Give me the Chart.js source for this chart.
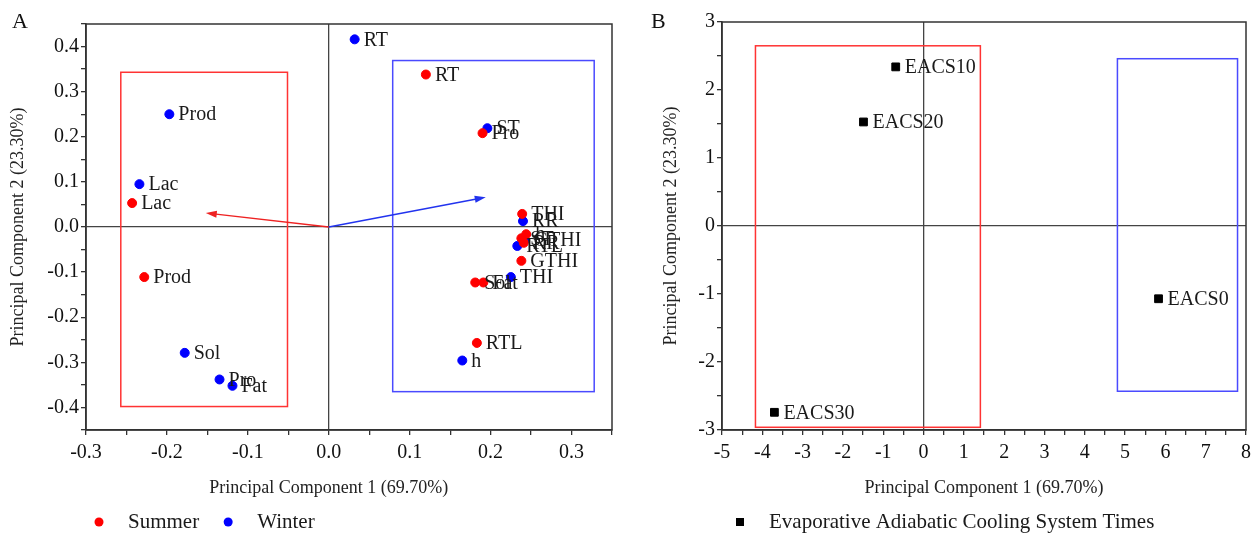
<!DOCTYPE html>
<html>
<head>
<meta charset="utf-8">
<script src="https://cdn.jsdelivr.net/npm/chart.js@4.4.1/dist/chart.umd.min.js"></script>
<style>
  body { margin: 0; background: #fff; }
  #wrapA { position: absolute; left: 0; top: 0; width: 640px; height: 533px; }
  #wrapB { position: absolute; left: 640px; top: 0; width: 618px; height: 533px; }
</style>
</head>
<body>
<div id="wrapA"><canvas id="chartA"></canvas></div>
<div id="wrapB"><canvas id="chartB"></canvas></div>
<script>
// panel A - summer
const summerLabels = ['RT', 'Pro', 'Lac', 'Prod', 'THI', 'h', 'ST', 'RR', 'GTHI', 'Sol', 'Fat', 'RTL'];
const summerX = [0.120, 0.190, -0.243, -0.228, 0.239, 0.244, 0.238, 0.241, 0.238, 0.181, 0.191, 0.183];
const summerY = [0.338, 0.208, 0.053, -0.111, 0.029, -0.016, -0.025, -0.035, -0.075, -0.123, -0.123, -0.257];
// panel A - winter
const winterLabels = ['RT', 'ST', 'Prod', 'Lac', 'RR', 'GTHI', 'RTL', 'THI', 'h', 'Sol', 'Pro', 'Fat'];
const winterX = [0.032, 0.196, -0.197, -0.234, 0.240, 0.242, 0.233, 0.225, 0.165, -0.178, -0.135, -0.119];
const winterY = [0.416, 0.219, 0.250, 0.095, 0.013, -0.029, -0.042, -0.111, -0.296, -0.279, -0.338, -0.352];
// loading arrows (x, y)
const summerArrow = [-0.152, 0.031];
const winterArrow = [0.194, 0.066];
// grouping boxes [xmin, xmax, ymin, ymax]
const boxA_red = [-0.257, -0.051, -0.398, 0.343];
const boxA_blue = [0.079, 0.328, -0.365, 0.369];

// panel B
const eacsLabels = ['EACS0', 'EACS10', 'EACS20', 'EACS30'];
const eacsX = [5.83, -0.69, -1.49, -3.70];
const eacsY = [-1.07, 2.34, 1.53, -2.74];
const boxB_red = [-4.17, 1.41, -2.96, 2.65];
const boxB_blue = [4.81, 7.79, -2.43, 2.46];

const pc1Title = 'Principal Component 1 (69.70%)';
const pc2Title = 'Principal Component 2 (23.30%)';

const SERIF = "'Liberation Serif', 'Times New Roman', serif";
Chart.defaults.font.family = SERIF;
Chart.defaults.font.size = 20;
Chart.defaults.color = '#111';

const toPoints = (xs, ys) => xs.map((v, i) => ({ x: v, y: ys[i] }));

const overlay = {
    id: 'overlay',
    beforeDatasetsDraw(chart, args, opts) {
        const { ctx, chartArea: a, scales: { x, y } } = chart;
        ctx.save();
        opts.boxes.forEach(b => {
            const l = x.getPixelForValue(b.r[0]), r = x.getPixelForValue(b.r[1]);
            const t = y.getPixelForValue(b.r[3]), btm = y.getPixelForValue(b.r[2]);
            ctx.strokeStyle = b.color;
            ctx.lineWidth = 1.5;
            ctx.strokeRect(l, t, r - l, btm - t);
        });
        (opts.arrows || []).forEach(ar => {
            const x0 = x.getPixelForValue(0), y0 = y.getPixelForValue(0);
            const x1 = x.getPixelForValue(ar.v[0]), y1 = y.getPixelForValue(ar.v[1]);
            const ang = Math.atan2(y1 - y0, x1 - x0);
            const c = Math.cos(ang), s = Math.sin(ang);
            ctx.strokeStyle = ar.color;
            ctx.fillStyle = ar.color;
            ctx.lineWidth = 1.4;
            ctx.beginPath();
            ctx.moveTo(x0, y0);
            ctx.lineTo(x1 - 8 * c, y1 - 8 * s);
            ctx.stroke();
            ctx.beginPath();
            ctx.moveTo(x1, y1);
            ctx.lineTo(x1 - 11 * c + 3.5 * s, y1 - 11 * s - 3.5 * c);
            ctx.lineTo(x1 - 11 * c - 3.5 * s, y1 - 11 * s + 3.5 * c);
            ctx.closePath();
            ctx.fill();
        });
        // frame
        ctx.strokeStyle = '#333';
        ctx.lineWidth = 1.5;
        ctx.strokeRect(a.left, a.top, a.width, a.height);
        ctx.restore();
    },
    afterDatasetsDraw(chart) {
        const ctx = chart.ctx;
        ctx.save();
        ctx.fillStyle = '#1a1a1a';
        ctx.font = '20px ' + SERIF;
        ctx.textBaseline = 'middle';
        chart.data.datasets.forEach((ds, i) => {
            chart.getDatasetMeta(i).data.forEach((pt, j) => {
                ctx.fillText(ds.pointLabels[j], pt.x + 9, pt.y + 1);
            });
        });
        ctx.restore();
    },
    afterDraw(chart, args, opts) {
        const ctx = chart.ctx;
        ctx.save();
        ctx.fillStyle = '#111';
        ctx.font = '22px ' + SERIF;
        ctx.textBaseline = 'middle';
        ctx.fillText(opts.letter, opts.letterX, 22);
        // x title centred on a chosen value (panel A is centred on 0, not on the axis)
        if (opts.xTitleAt !== undefined) {
            ctx.font = '18px ' + SERIF;
            ctx.fillStyle = '#222';
            ctx.textAlign = 'center';
            ctx.fillText(pc1Title, chart.scales.x.getPixelForValue(opts.xTitleAt), 488);
            ctx.textAlign = 'left';
        }
        // legend
        ctx.font = '21px ' + SERIF;
        let lx = opts.legendX;
        const ly = 522;
        chart.data.datasets.forEach(ds => {
            ctx.fillStyle = ds.backgroundColor;
            if (ds.pointStyle === 'rect') {
                ctx.fillRect(lx - 4, ly - 4, 8, 8);
            } else {
                ctx.beginPath();
                ctx.arc(lx, ly, 4.5, 0, Math.PI * 2);
                ctx.fill();
            }
            ctx.fillStyle = '#1a1a1a';
            ctx.fillText(ds.label, lx + 29, ly);
            lx += 29 + ctx.measureText(ds.label).width + 29;
        });
        ctx.restore();
    }
};

function axis(min, max, step, major, dec, title, showTitle, pad, fitFn) {
    return {
        type: 'linear',
        min: min,
        max: max,
        afterFit: fitFn,
        ticks: {
            stepSize: step,
            autoSkip: false,
            maxRotation: 0,
            padding: pad,
            color: '#111',
            callback: v => {
                const k = v / major;
                if (Math.abs(k - Math.round(k)) > 1e-6) return '';
                let n = Math.round(k) * major;
                if (Math.abs(n) < 1e-9) n = 0;
                return n.toFixed(dec);
            }
        },
        grid: {
            drawOnChartArea: true,
            color: c => (c.tick && Math.abs(c.tick.value) < 1e-9) ? '#444' : 'rgba(0,0,0,0)',
            lineWidth: 1.3,
            tickLength: 5,
            tickColor: '#333',
            tickWidth: 1.3
        },
        border: { display: true, color: '#333', width: 1.5 },
        title: { display: showTitle, text: title, color: '#222', font: { size: 18 }, padding: { top: 2, bottom: 4 } }
    };
}

new Chart(document.getElementById('chartA'), {
    type: 'scatter',
    data: {
        datasets: [
            { label: 'Summer', data: toPoints(summerX, summerY), pointLabels: summerLabels,
              backgroundColor: '#ff0000', borderColor: '#ff0000', pointRadius: 4.5, pointStyle: 'circle' },
            { label: 'Winter', data: toPoints(winterX, winterY), pointLabels: winterLabels,
              backgroundColor: '#0000ff', borderColor: '#0000ff', pointRadius: 4.5, pointStyle: 'circle' }
        ]
    },
    options: {
        animation: false,
        responsive: true,
        maintainAspectRatio: false,
        layout: { padding: { left: 5, right: 28, top: 24, bottom: 30 } },
        scales: {
            x: axis(-0.3, 0.35, 0.05, 0.1, 1, pc1Title, false, 6, s => { s.height = 73; }),
            y: axis(-0.45, 0.45, 0.05, 0.1, 1, pc2Title, true, 2, s => { s.width = 81; })
        },
        plugins: {
            legend: { display: false },
            tooltip: { enabled: false },
            overlay: {
                letter: 'A', letterX: 12, legendX: 99, xTitleAt: 0,
                boxes: [{ r: boxA_red, color: '#ff3333' }, { r: boxA_blue, color: '#4a4aff' }],
                arrows: [{ v: summerArrow, color: '#ee2222' }, { v: winterArrow, color: '#2233ee' }]
            }
        }
    },
    plugins: [overlay]
});

new Chart(document.getElementById('chartB'), {
    type: 'scatter',
    data: {
        datasets: [
            { label: 'Evaporative Adiabatic Cooling System Times', data: toPoints(eacsX, eacsY), pointLabels: eacsLabels,
              backgroundColor: '#000', borderColor: '#000', pointRadius: 5.5, pointStyle: 'rect' }
        ]
    },
    options: {
        animation: false,
        responsive: true,
        maintainAspectRatio: false,
        layout: { padding: { left: 18, right: 12, top: 22, bottom: 30 } },
        scales: {
            x: axis(-5, 8, 0.5, 1, 0, pc1Title, true, 6, s => { s.height = 73; }),
            y: axis(-3, 3, 0.5, 1, 0, pc2Title, true, 2, s => { s.width = 64; })
        },
        plugins: {
            legend: { display: false },
            tooltip: { enabled: false },
            overlay: {
                letter: 'B', letterX: 11, legendX: 100,
                boxes: [{ r: boxB_red, color: '#ff3333' }, { r: boxB_blue, color: '#4a4aff' }]
            }
        }
    },
    plugins: [overlay]
});
</script>
</body>
</html>
